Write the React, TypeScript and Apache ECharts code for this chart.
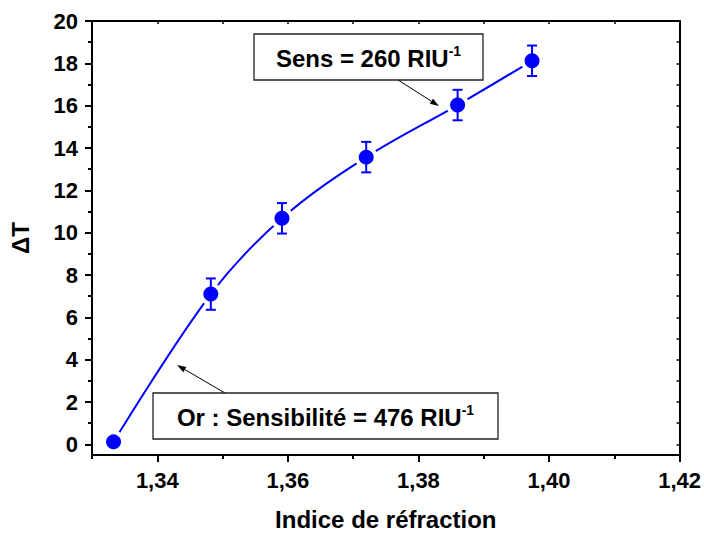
import React, { useEffect, useRef } from "react";
import * as echarts from "echarts";

const refractiveIndex = [1.3333, 1.3482, 1.3591, 1.372, 1.386, 1.3974];
const deltaT = [0.12, 7.1, 10.68, 13.57, 16.03, 18.12];
const deltaTError = [0, 0.74, 0.72, 0.72, 0.72, 0.72];

const xMajorTicks = [1.34, 1.36, 1.38, 1.4, 1.42];
const xMinorTicks = [1.33, 1.35, 1.37, 1.39, 1.41];
const xFrameTicks = [1.34, 1.35, 1.36, 1.37, 1.38, 1.39, 1.4, 1.41];
const yMajorTicks = [0, 2, 4, 6, 8, 10, 12, 14, 16, 18, 20];
const yMinorTicks = [1, 3, 5, 7, 9, 11, 13, 15, 17, 19];
const yFrameTicks = [0, 1, 2, 3, 4, 5, 6, 7, 8, 9, 10, 11, 12, 13, 14, 15, 16, 17, 18, 19];

const xAxisTitle = "Indice de réfraction";
const yAxisTitle = "ΔT";
const noteSens = "Sens = 260 RIU";
const noteOr = "Or : Sensibilité = 476 RIU";
const noteSup = "-1";

const FONT = "'Liberation Sans', Arial, sans-serif";
const BLUE = "#0000ff";

function arrow(x1: number, y1: number, x2: number, y2: number) {
  const dx = x2 - x1;
  const dy = y2 - y1;
  const len = Math.sqrt(dx * dx + dy * dy);
  const ux = dx / len;
  const uy = dy / len;
  const hl = 9;
  const hw = 3;
  const bx = x2 - ux * hl;
  const by = y2 - uy * hl;
  return [
    {
      type: "line",
      shape: { x1, y1, x2: bx, y2: by },
      style: { stroke: "#000", lineWidth: 1 },
      z: 10,
    },
    {
      type: "polygon",
      shape: {
        points: [
          [x2, y2],
          [bx - uy * hw, by + ux * hw],
          [bx + uy * hw, by - ux * hw],
        ],
      },
      style: { fill: "#000" },
      z: 10,
    },
  ];
}

function note(x: number, y: number, w: number, h: number, txt: string) {
  return [
    {
      type: "rect",
      shape: { x, y, width: w, height: h },
      style: { fill: "#fff", stroke: "#222", lineWidth: 1.3 },
      z: 10,
    },
    {
      type: "text",
      x: x + w / 2,
      y: y + h / 2 + 1,
      z: 11,
      style: {
        text: `{m|${txt}}{s|${noteSup}}`,
        align: "center",
        verticalAlign: "middle",
        rich: {
          m: {
            fontFamily: FONT,
            fontWeight: "bold",
            fontSize: 24,
            fill: "#000",
            lineHeight: 28,
          },
          s: {
            fontFamily: FONT,
            fontWeight: "bold",
            fontSize: 14,
            fill: "#000",
            lineHeight: 28,
            verticalAlign: "top",
            padding: [0, 0, 12, 0],
          },
        },
      },
    },
  ];
}

export default function App() {
  const ref = useRef<HTMLDivElement>(null);
  useEffect(() => {
    if (!ref.current) return;
    const chart = echarts.init(ref.current, null, { renderer: "svg" });
    const points = refractiveIndex.map((x, i) => [x, deltaT[i]]);
    const errData = refractiveIndex.map((x, i) => [x, deltaT[i], deltaTError[i]]);
    const labelStyle = {
      color: "#000",
      fontFamily: FONT,
      fontWeight: "bold",
      fontSize: 22,
    };
    const common = { min: 1.33, max: 1.42, type: "value", splitLine: { show: false } };
    const ycommon = { min: -0.5, max: 20, type: "value", splitLine: { show: false } };
    chart.setOption({
      animation: false,
      grid: { left: 89, right: 22, top: 21, bottom: 77, containLabel: false },
      xAxis: [
        {
          ...common,
          position: "bottom",
          name: xAxisTitle,
          nameLocation: "middle",
          nameGap: 52,
          nameTextStyle: { color: "#000", fontFamily: FONT, fontWeight: "bold", fontSize: 24 },
          axisLine: { show: true, onZero: false, lineStyle: { color: "#000", width: 2 } },
          axisTick: { show: true, length: 7, customValues: xMajorTicks, lineStyle: { color: "#000", width: 2 } },
          axisLabel: {
            ...labelStyle,
            margin: 14,
            customValues: xMajorTicks,
            formatter: (v: number) => v.toFixed(2).replace(".", ","),
          },
        },
        {
          ...common,
          position: "bottom",
          axisLine: { show: false, onZero: false },
          axisTick: { show: true, length: 4, customValues: xMinorTicks, lineStyle: { color: "#000", width: 2 } },
          axisLabel: { show: false },
        },
        {
          ...common,
          position: "top",
          axisLine: { show: true, onZero: false, lineStyle: { color: "#000", width: 2 } },
          axisTick: { show: true, inside: true, length: 3, customValues: xFrameTicks, lineStyle: { color: "#000", width: 1.5 } },
          axisLabel: { show: false },
        },
      ],
      yAxis: [
        {
          ...ycommon,
          position: "left",
          name: yAxisTitle,
          nameLocation: "middle",
          nameGap: 60,
          nameTextStyle: { color: "#000", fontFamily: FONT, fontWeight: "bold", fontSize: 24 },
          axisLine: { show: true, onZero: false, lineStyle: { color: "#000", width: 2 } },
          axisTick: { show: true, length: 7, customValues: yMajorTicks, lineStyle: { color: "#000", width: 2 } },
          axisLabel: { ...labelStyle, margin: 14, customValues: yMajorTicks },
        },
        {
          ...ycommon,
          position: "left",
          axisLine: { show: false, onZero: false },
          axisTick: { show: true, length: 4, customValues: yMinorTicks, lineStyle: { color: "#000", width: 2 } },
          axisLabel: { show: false },
        },
        {
          ...ycommon,
          position: "right",
          axisLine: { show: true, onZero: false, lineStyle: { color: "#000", width: 2 } },
          axisTick: { show: true, inside: true, length: 3, customValues: yFrameTicks, lineStyle: { color: "#000", width: 1.5 } },
          axisLabel: { show: false },
        },
      ],
      series: [
        {
          type: "line",
          data: points,
          smooth: 0.35,
          showSymbol: false,
          lineStyle: { color: BLUE, width: 2 },
          z: 1,
        },
        {
          type: "scatter",
          data: points,
          symbol: "circle",
          symbolSize: 23,
          itemStyle: { color: "#fff", opacity: 1 },
          z: 2,
          silent: true,
        },
        {
          type: "scatter",
          data: points,
          symbol: "circle",
          symbolSize: 15,
          itemStyle: { color: BLUE, opacity: 1 },
          z: 3,
        },
        {
          type: "custom",
          data: errData,
          encode: { x: 0, y: 1 },
          z: 4,
          renderItem: (params: any, api: any) => {
            const x = api.value(0);
            const y = api.value(1);
            const e = api.value(2);
            if (!e) return null;
            const t = api.coord([x, y + e]);
            const b = api.coord([x, y - e]);
            const cw = 5;
            const st = { stroke: BLUE, lineWidth: 2 };
            return {
              type: "group",
              children: [
                { type: "line", shape: { x1: t[0], y1: t[1], x2: b[0], y2: b[1] }, style: st },
                { type: "line", shape: { x1: t[0] - cw, y1: t[1], x2: t[0] + cw, y2: t[1] }, style: st },
                { type: "line", shape: { x1: b[0] - cw, y1: b[1], x2: b[0] + cw, y2: b[1] }, style: st },
              ],
            };
          },
        },
      ],
      graphic: [
        ...arrow(398, 80, 439, 106),
        ...arrow(225, 393, 177, 365),
        ...note(254, 34, 229, 46, noteSens),
        ...note(153, 393, 345, 46, noteOr),
      ],
    });
    return () => chart.dispose();
  }, []);
  return (
    <div
      ref={ref}
      style={{ position: "absolute", left: 0, top: 0, width: 704, height: 536, background: "#fff" }}
    />
  );
}
